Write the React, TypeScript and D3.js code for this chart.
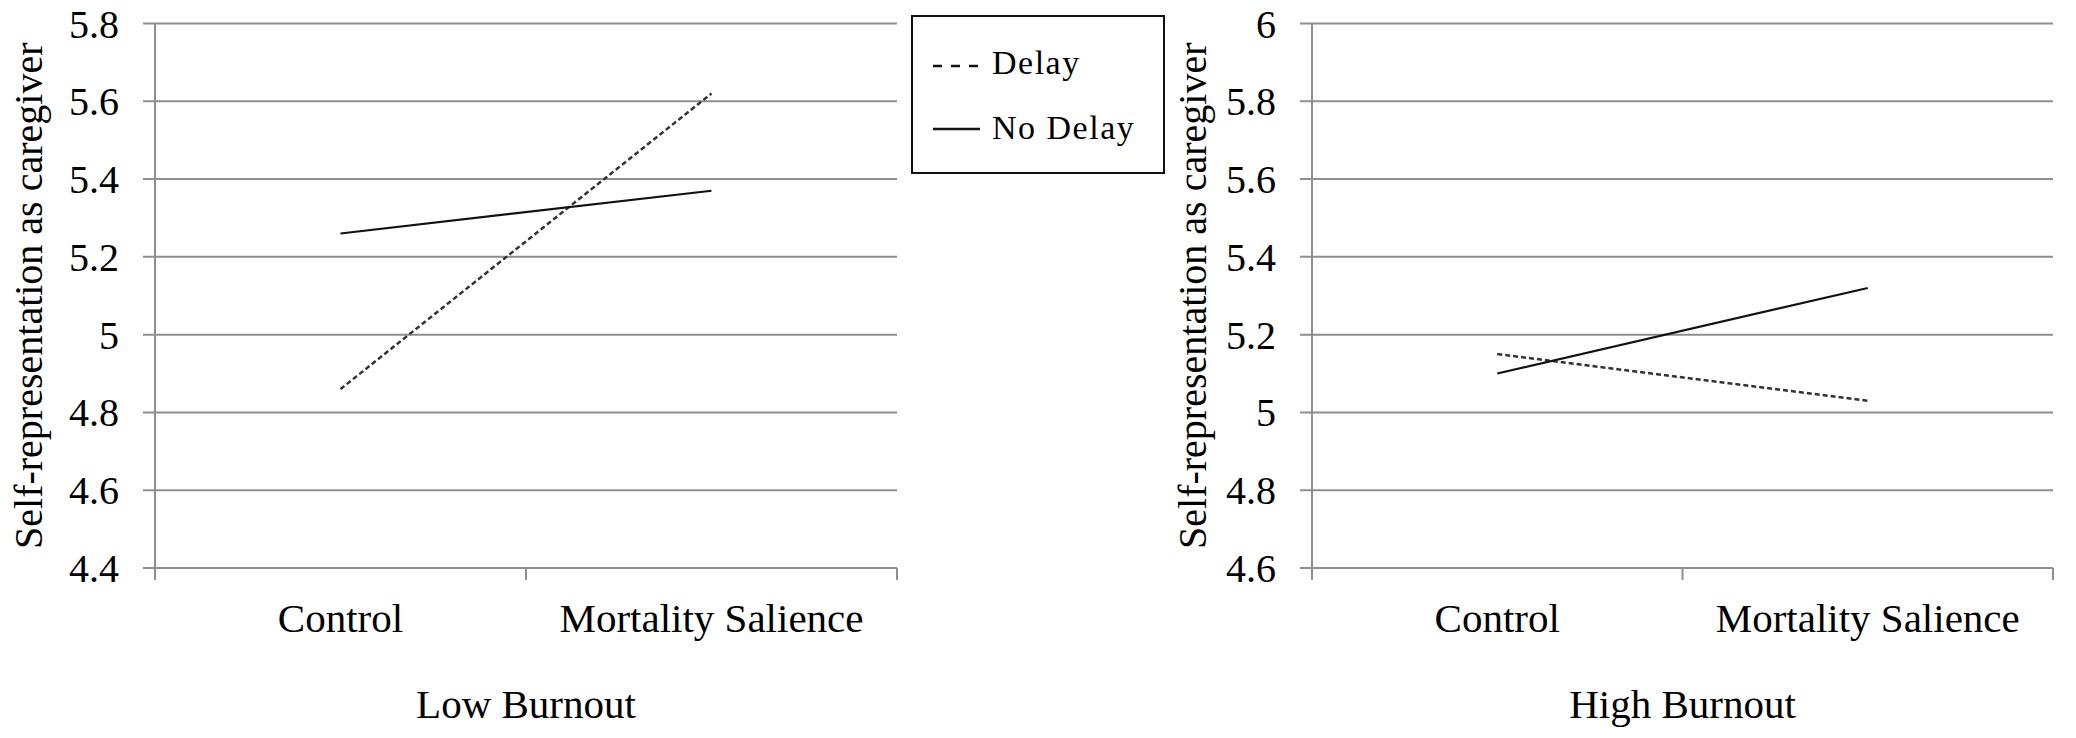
import React, { useEffect, useRef } from 'react';
import * as d3 from 'd3';

const conditions = ['Control', 'Mortality Salience'];
const seriesNames = ['Delay', 'No Delay'];

const lowDelay = [4.86, 5.62];
const lowNoDelay = [5.26, 5.37];
const highDelay = [5.15, 5.03];
const highNoDelay = [5.1, 5.32];

const lowTicks = [4.4, 4.6, 4.8, 5, 5.2, 5.4, 5.6, 5.8];
const highTicks = [4.6, 4.8, 5, 5.2, 5.4, 5.6, 5.8, 6];

const yTitle = 'Self-representation as caregiver';
const panelTitles = ['Low Burnout', 'High Burnout'];

const FONT = "'Liberation Serif', 'Times New Roman', Times, 'DejaVu Serif', serif";
const GRID = '#8e8e8e';

export default function App() {
  const svgRef = useRef<SVGSVGElement>(null);

  useEffect(() => {
    if (!svgRef.current) return;
    const svg = d3.select(svgRef.current);
    svg.selectAll('*').remove();

    const top = 23.5;
    const bottom = 568;

    const panels = [
      { left: 155, right: 897, ticks: lowTicks, delay: lowDelay, noDelay: lowNoDelay, title: panelTitles[0], titleX: 42 },
      { left: 1312, right: 2053, ticks: highTicks, delay: highDelay, noDelay: highNoDelay, title: panelTitles[1], titleX: 1206 },
    ];

    panels.forEach(p => {
      const x = d3.scaleBand().domain(conditions).range([p.left, p.right]);
      const y = d3.scaleLinear().domain([p.ticks[0], p.ticks[p.ticks.length - 1]]).range([bottom, top]);
      const g = svg.append('g').style('font-family', FONT);

      // gridlines, running a little left of the axis as tick marks
      g.selectAll('line.grid')
        .data(p.ticks)
        .enter()
        .append('line')
        .attr('x1', p.left - 12)
        .attr('x2', p.right)
        .attr('y1', d => y(d))
        .attr('y2', d => y(d))
        .attr('stroke', GRID)
        .attr('stroke-width', 2);

      g.append('line')
        .attr('x1', p.left).attr('x2', p.left)
        .attr('y1', top).attr('y2', bottom + 12)
        .attr('stroke', GRID).attr('stroke-width', 2);

      const edges = [...conditions.map(c => x(c)!), p.right].slice(1);
      g.selectAll('line.xt')
        .data(edges)
        .enter()
        .append('line')
        .attr('x1', d => d).attr('x2', d => d)
        .attr('y1', bottom).attr('y2', bottom + 12)
        .attr('stroke', GRID).attr('stroke-width', 2);

      g.selectAll('text.yt')
        .data(p.ticks)
        .enter()
        .append('text')
        .attr('x', p.left - 36)
        .attr('y', d => y(d))
        .attr('dy', '0.35em')
        .attr('text-anchor', 'end')
        .attr('font-size', 40)
        .text(d => String(d));

      g.selectAll('text.cat')
        .data(conditions)
        .enter()
        .append('text')
        .attr('x', d => x(d)! + x.bandwidth() / 2)
        .attr('y', 632)
        .attr('text-anchor', 'middle')
        .attr('font-size', 41)
        .text(d => d);

      g.append('text')
        .attr('x', (p.left + p.right) / 2)
        .attr('y', 718)
        .attr('text-anchor', 'middle')
        .attr('font-size', 41)
        .text(p.title);

      g.append('text')
        .attr('transform', `translate(${p.titleX},${(top + bottom) / 2}) rotate(-90)`)
        .attr('text-anchor', 'middle')
        .attr('font-size', 40)
        .text(yTitle);

      const line = d3.line<number>()
        .x((_, i) => x(conditions[i])! + x.bandwidth() / 2)
        .y(d => y(d));

      g.append('path')
        .attr('d', line(p.delay))
        .attr('fill', 'none')
        .attr('stroke', '#333')
        .attr('stroke-width', 2.5)
        .attr('stroke-dasharray', '5,3');

      g.append('path')
        .attr('d', line(p.noDelay))
        .attr('fill', 'none')
        .attr('stroke', '#111')
        .attr('stroke-width', 2.2);
    });

    // legend
    const lg = svg.append('g').style('font-family', FONT);
    lg.append('rect')
      .attr('x', 912).attr('y', 16)
      .attr('width', 252).attr('height', 157)
      .attr('fill', '#fff')
      .attr('stroke', '#111')
      .attr('stroke-width', 2);

    const rows = [
      { name: seriesNames[0], dash: '9,9', y: 66, ty: 74 },
      { name: seriesNames[1], dash: null, y: 129, ty: 139 },
    ];
    rows.forEach(r => {
      lg.append('line')
        .attr('x1', 933).attr('x2', 980)
        .attr('y1', r.y).attr('y2', r.y)
        .attr('stroke', '#111')
        .attr('stroke-width', 2.5)
        .attr('stroke-dasharray', r.dash);
      lg.append('text')
        .attr('x', 992).attr('y', r.ty)
        .attr('font-size', 34)
        .attr('letter-spacing', 1.5)
        .text(r.name);
    });
  }, []);

  return (
    <svg
      ref={svgRef}
      width={2076}
      height={738}
      style={{ position: 'absolute', left: 0, top: 0, background: '#fff' }}
    />
  );
}
